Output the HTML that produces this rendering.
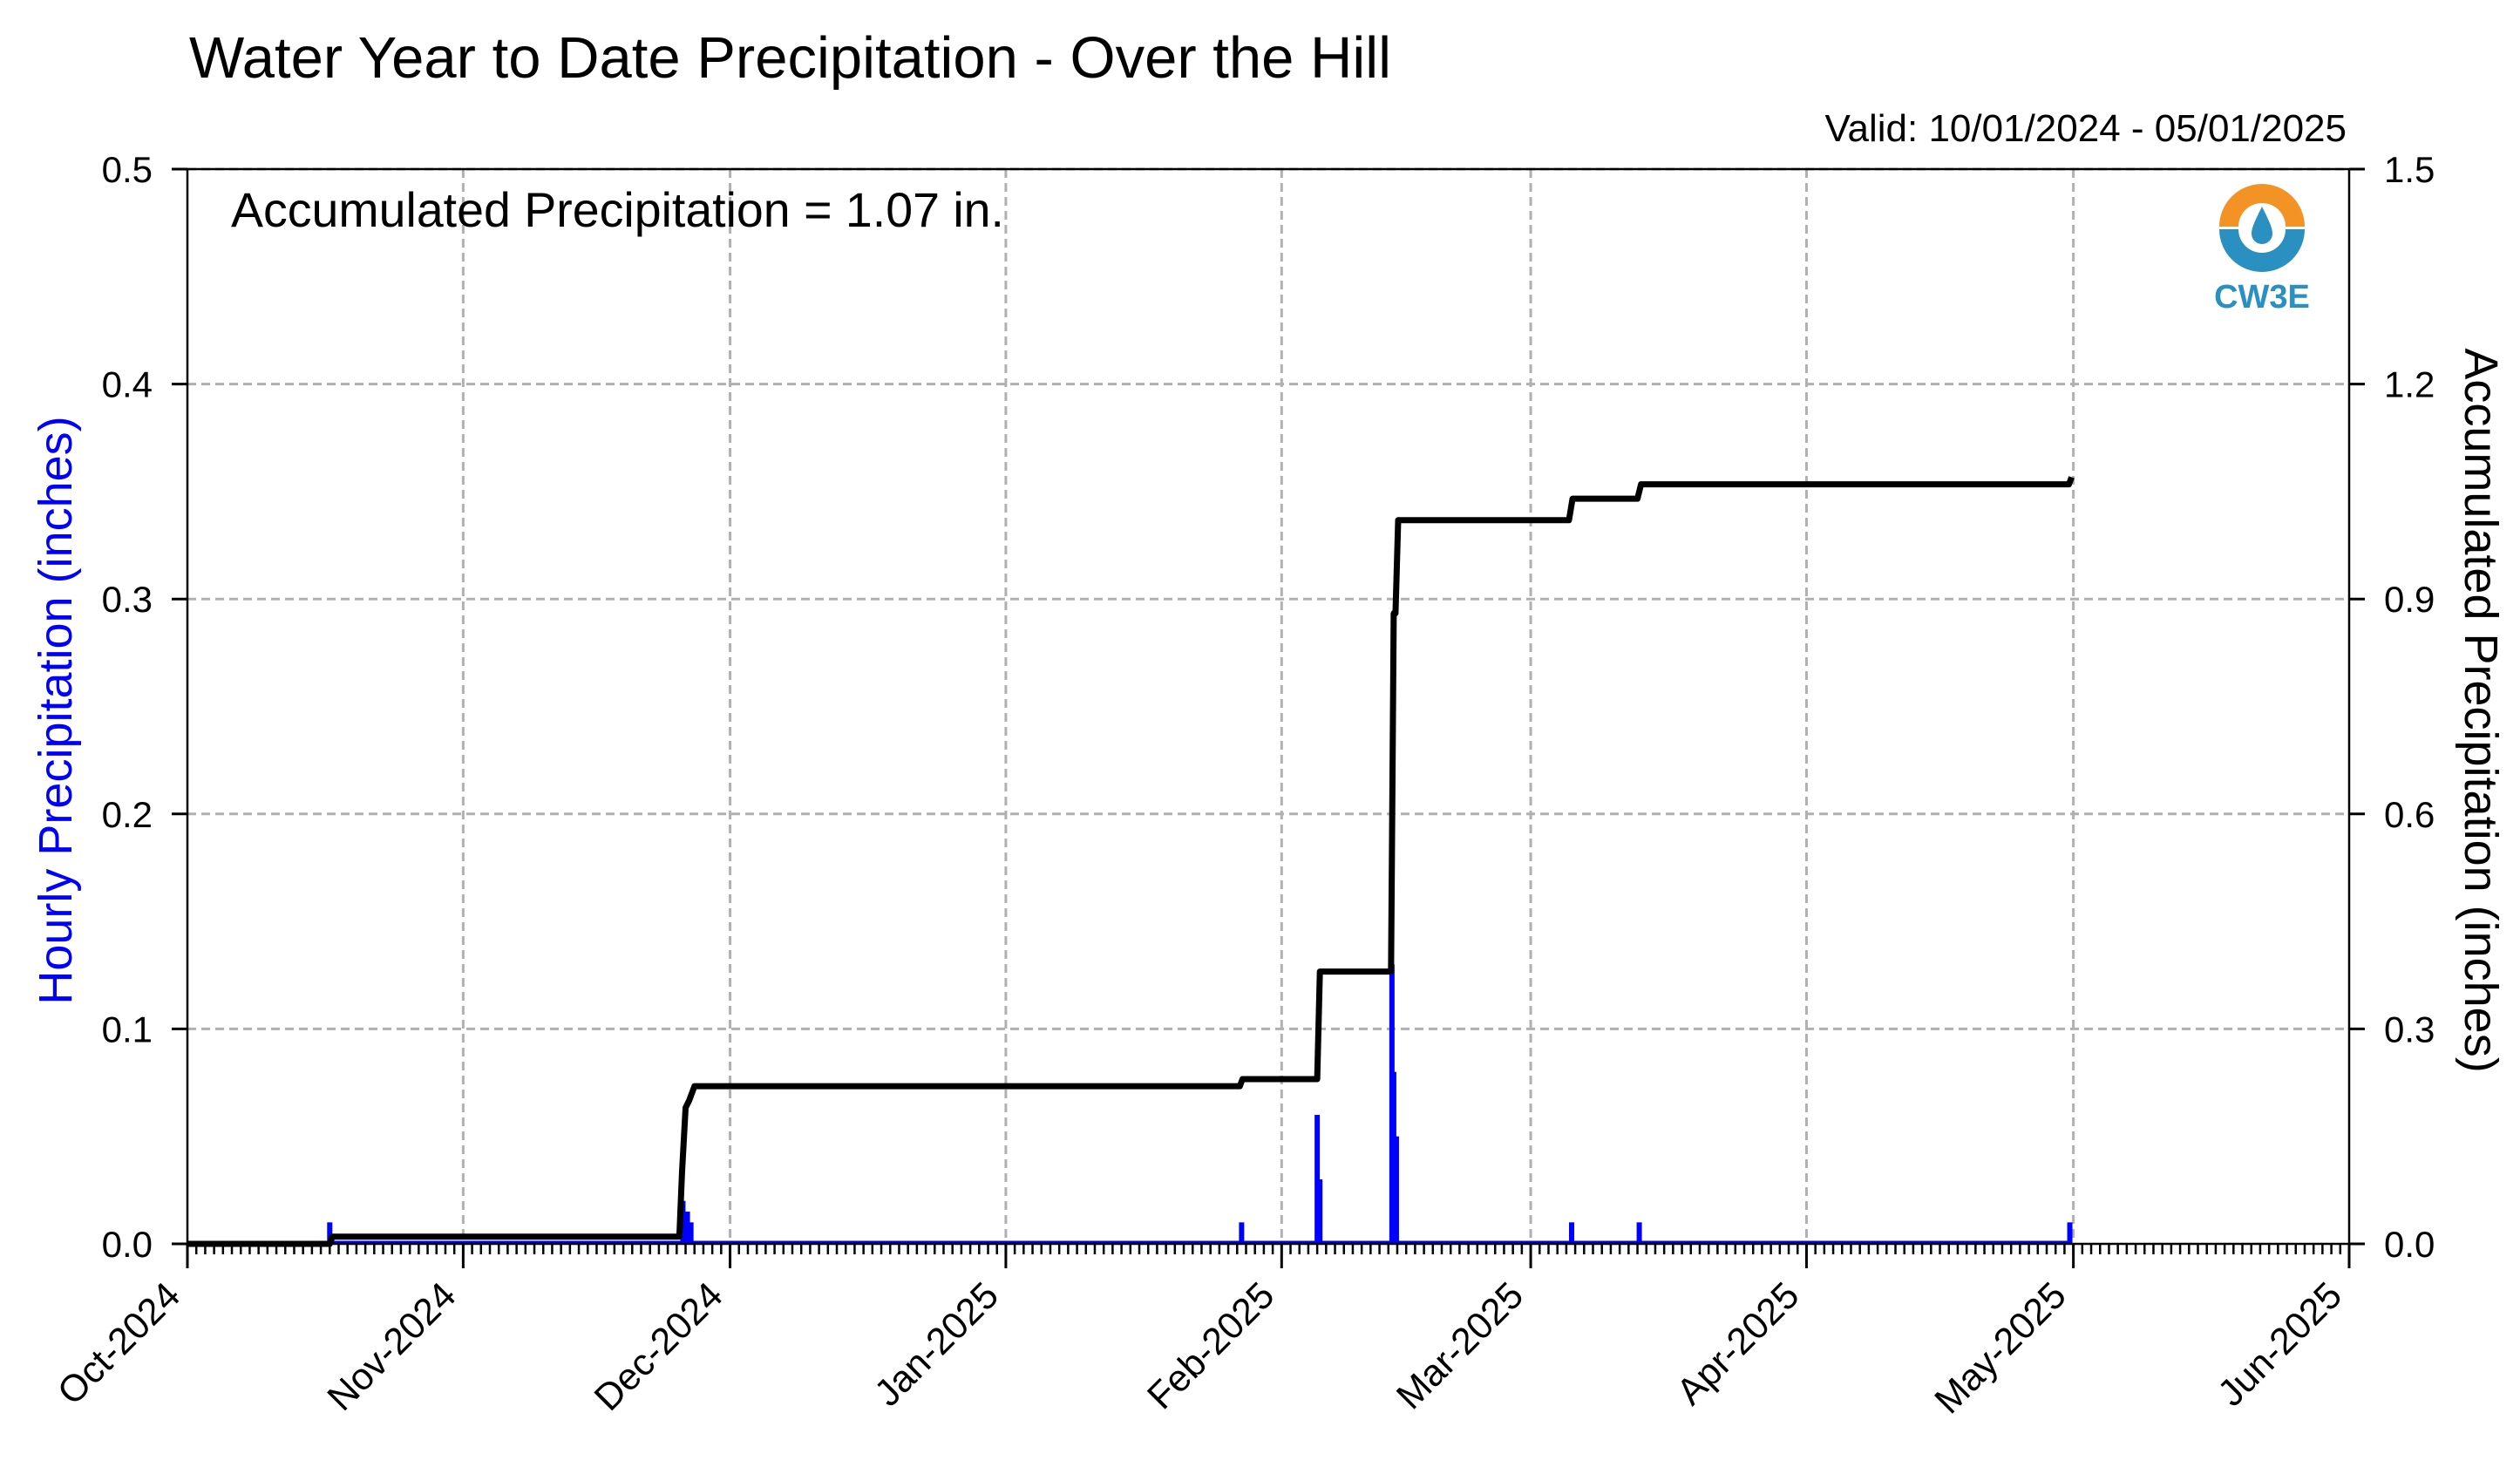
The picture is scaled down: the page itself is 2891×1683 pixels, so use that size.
<!DOCTYPE html>
<html><head><meta charset="utf-8"><style>
html,body{margin:0;padding:0;background:#fff;}
svg{display:block;font-family:"Liberation Sans",Arial,sans-serif;}
</style></head><body>
<svg id="chart" width="2891" height="1683" viewBox="0 0 2891 1683" xmlns="http://www.w3.org/2000/svg">
<rect width="2891" height="1683" fill="#fff"/>
<text x="217" y="89" font-size="67">Water Year to Date Precipitation - Over the Hill</text>
<text x="2692" y="162" font-size="44" text-anchor="end">Valid: 10/01/2024 - 05/01/2025</text>
<g id="grid"></g>
<g id="bars"></g>
<g id="line"></g>
<g id="axes"></g>
<text x="265" y="260" font-size="55.5">Accumulated Precipitation = 1.07 in.</text>
<g>
 <path d="M2546 260 A49 49 0 0 1 2644 260 L2622 260 A27 27 0 0 0 2568 260 Z" fill="#f39325"/>
 <path d="M2546 263 A49 49 0 0 0 2644 263 L2622 263 A27 27 0 0 1 2568 263 Z" fill="#2a8fc1"/>
 <path d="M2595 237 C2586 255 2583 262 2583 268 A12 12 0 0 0 2607 268 C2607 262 2604 255 2595 237 Z" fill="#2a8fc1"/>
 <text x="2595" y="353" font-size="38" font-weight="bold" fill="#2a8fc1" text-anchor="middle">CW3E</text>
</g>
<text transform="translate(82,815) rotate(-90)" font-size="54" fill="#0000ff" text-anchor="middle">Hourly Precipitation (inches)</text>
<text transform="translate(2828,815) rotate(90)" font-size="54" fill="#000" text-anchor="middle">Accumulated Precipitation (inches)</text>
</svg>
<script>
// days since 2024-10-01
const monthLabels = ["Oct-2024","Nov-2024","Dec-2024","Jan-2025","Feb-2025","Mar-2025","Apr-2025","May-2025","Jun-2025"];
const monthDays = [0,31,61,92,123,151,182,212,243];
const leftTicks = [0.0,0.1,0.2,0.3,0.4,0.5];
const rightTicks = ["0.0","0.3","0.6","0.9","1.2","1.5"];
const barDays = [16,55.7,56.2,56.6,118.5,127,127.3,135.4,135.6,135.9,155.6,163.2,211.6];
const barValues = [0.01,0.02,0.015,0.01,0.01,0.06,0.03,0.13,0.08,0.05,0.01,0.01,0.01];
const accDays = [0,16,16.3,55.3,55.6,56,56.4,57,118.3,118.6,127,127.3,135.3,135.6,135.8,136.1,155.3,155.7,163,163.4,211.5,211.8];
const accValues = [0,0,0.01,0.01,0.1,0.19,0.2,0.22,0.22,0.23,0.23,0.38,0.38,0.88,0.88,1.01,1.01,1.04,1.04,1.06,1.06,1.07];

const NS="http://www.w3.org/2000/svg";
const X0=215,X1=2695,Y0=1427,Y1=194;
const xs=d=>X0+(X1-X0)*d/243;
const yl=v=>Y0-(Y0-Y1)*v/0.5;
const yr=v=>Y0-(Y0-Y1)*v/1.5;
function mk(tag,attrs,parent){const e=document.createElementNS(NS,tag);for(const k in attrs)e.setAttribute(k,attrs[k]);parent.appendChild(e);return e;}
const grid=document.getElementById('grid'),axes=document.getElementById('axes'),bars=document.getElementById('bars'),line=document.getElementById('line');
monthDays.forEach((d,i)=>{if(i>0&&i<monthDays.length-1){const g=mk('line',{x1:xs(d),x2:xs(d),y1:Y1,y2:Y0,stroke:'#b0b0b0','stroke-width':3,'stroke-dasharray':'10,6'},grid);

}});
leftTicks.forEach((v,i)=>{if(i>0){const g=mk('line',{x1:X0,x2:X1,y1:yl(v),y2:yl(v),stroke:'#b0b0b0','stroke-width':3,'stroke-dasharray':'10,6'},grid);

}});
const bl=mk('line',{x1:xs(16),x2:xs(211.8),y1:Y0-2,y2:Y0-2,stroke:'#0000ff','stroke-width':3},bars);


barDays.forEach((d,i)=>{const r=mk('rect',{x:xs(d)-3,y:yl(barValues[i]),width:6,height:Y0-yl(barValues[i]),fill:'#0000ff'},bars);

});
const pts=accDays.map((d,i)=>xs(d)+','+yr(accValues[i])).join(' ');
const pl=mk('polyline',{points:pts,fill:'none',stroke:'#000','stroke-width':7,'stroke-linejoin':'round'},line);


const fr=mk('rect',{x:X0,y:Y1,width:X1-X0,height:Y0-Y1,fill:'none',stroke:'#000','stroke-width':2.5},axes);


for(let d=1;d<243;d++){mk('line',{x1:xs(d),x2:xs(d),y1:Y0,y2:Y0+12,stroke:'#000','stroke-width':2.5},axes);}
monthDays.forEach((d,i)=>{mk('line',{x1:xs(d),x2:xs(d),y1:Y0,y2:Y0+28,stroke:'#000','stroke-width':3},axes);
const t=mk('text',{transform:`translate(${xs(d)-6},${Y0+62}) rotate(-45)`,'font-size':43,'text-anchor':'end'},axes);
t.textContent=monthLabels[i];

});
leftTicks.forEach((v,i)=>{mk('line',{x1:X0-18,x2:X0,y1:yl(v),y2:yl(v),stroke:'#000','stroke-width':3},axes);
const t=mk('text',{x:X0-40,y:yl(v)+15,'font-size':42,'text-anchor':'end'},axes);
t.textContent=v.toFixed(1);


mk('line',{x1:X1,x2:X1+18,y1:yl(v),y2:yl(v),stroke:'#000','stroke-width':3},axes);
const r=mk('text',{x:X1+40,y:yl(v)+15,'font-size':42},axes);
r.textContent=rightTicks[i];

});
</script>
</body></html>
